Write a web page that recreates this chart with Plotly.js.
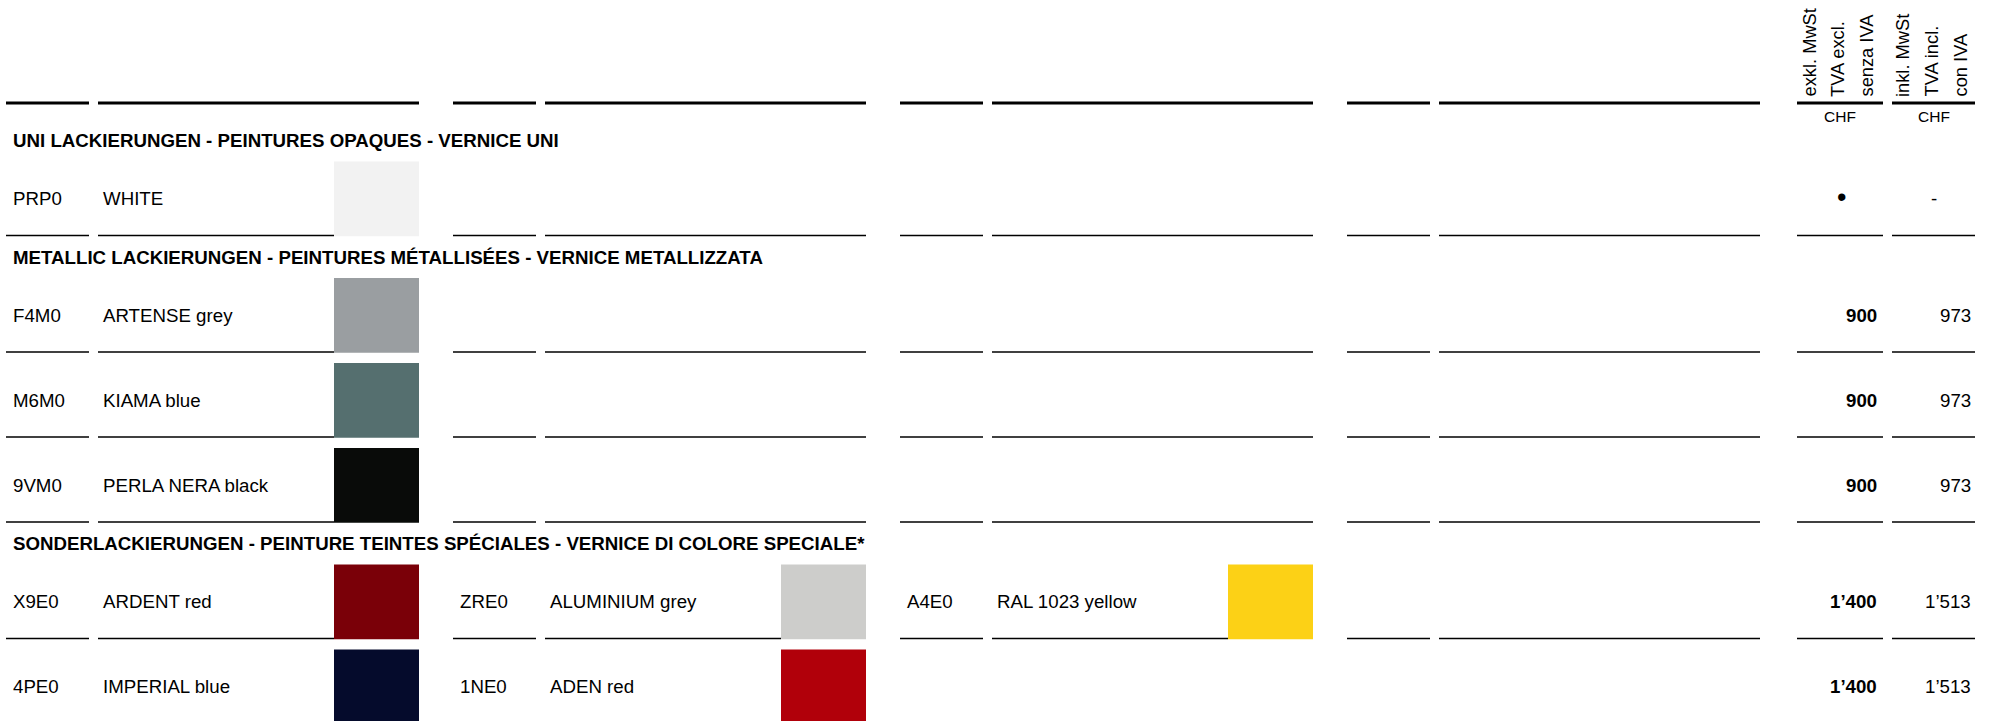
<!DOCTYPE html>
<html>
<head>
<meta charset="utf-8">
<script src="https://cdn.plot.ly/plotly-3.0.1.min.js"></script>
<style>
  html, body { margin: 0; padding: 0; background: #ffffff; }
  #chart { width: 1998px; height: 721px; }
</style>
</head>
<body>
<div id="chart"></div>
<script>
// ---------------- DATA ----------------
const sectionTitles = [
  "UNI LACKIERUNGEN - PEINTURES OPAQUES - VERNICE UNI",
  "METALLIC LACKIERUNGEN - PEINTURES MÉTALLISÉES - VERNICE METALLIZZATA",
  "SONDERLACKIERUNGEN - PEINTURE TEINTES SPÉCIALES - VERNICE DI COLORE SPECIALE*"
];
// one entry per table row
const rowSection = [0, 1, 1, 1, 2, 2];
const priceExcl  = ["•", "900", "900", "900", "1’400", "1’400"];
const priceIncl  = ["-", "973", "973", "973", "1’513", "1’513"];
// one entry per colour
const codes  = ["PRP0", "F4M0", "M6M0", "9VM0", "X9E0", "ZRE0", "A4E0", "4PE0", "1NE0"];
const names  = ["WHITE", "ARTENSE grey", "KIAMA blue", "PERLA NERA black", "ARDENT red",
                "ALUMINIUM grey", "RAL 1023 yellow", "IMPERIAL blue", "ADEN red"];
const swatchColors = ["#f2f2f2", "#9a9ea1", "#556f6f", "#090b09", "#7a0008",
                      "#cdcdcb", "#fcd116", "#050b2c", "#b1000a"];
const colourRow   = [0, 1, 2, 3, 4, 4, 4, 5, 5];
const colourGroup = [0, 0, 0, 0, 0, 1, 2, 0, 1];
// header labels
const headerExcl = ["exkl. MwSt", "TVA excl.", "senza IVA"];
const headerIncl = ["inkl. MwSt", "TVA incl.", "con IVA"];
const currencyLabels = ["CHF", "CHF"];

// ---------------- LAYOUT GEOMETRY ----------------
const W = 1998, H = 721;
const FONT = "Liberation Sans, Arial, Helvetica, sans-serif";
const FS = 18.7;
const GROUP_X = [6, 453, 900, 1347];
const CODE_W = 83, NAME_DX = 92, NAME_W = 321, SWATCH_DX = 328, SWATCH_W = 85;
const PRICE_SEGS = [[1797, 1883], [1892, 1975]];
const PRICE_RIGHT = [1878, 1972];
const PRICE_CENTER = [1840, 1933.5];
const HEADER_LINE_Y = 103;
const ROW_H = 74, ROW_GAP = 11;

// compute vertical positions
const sectionY = [];
const rowTop = [], rowBottom = [];
let lastLine = HEADER_LINE_Y;
let prevSection = -1;
let cursorTop = 0;
for (let r = 0; r < rowSection.length; r++) {
  const s = rowSection[r];
  if (s !== prevSection) {
    const ty = lastLine + (s === 0 ? 37.5 : 21.5);
    sectionY[s] = ty;
    cursorTop = ty + 21;
    prevSection = s;
  } else {
    cursorTop = lastLine + ROW_GAP;
  }
  rowTop[r] = cursorTop;
  rowBottom[r] = cursorTop + ROW_H;
  lastLine = rowBottom[r];
}

const shapes = [];
const annotations = [];

function hline(x0, x1, y, w) {
  shapes.push({type: "line", xref: "x", yref: "y", x0: x0, x1: x1, y0: y, y1: y,
               line: {color: "#000000", width: w}});
}
function text(t, x, y, opts) {
  annotations.push(Object.assign({
    text: t, x: x, y: y, xref: "x", yref: "y", showarrow: false,
    xanchor: "left", yanchor: "middle", borderpad: 0,
    font: {family: FONT, size: FS, color: "#000000"}
  }, opts || {}));
}

// header lines
GROUP_X.forEach(gx => {
  hline(gx, gx + CODE_W, HEADER_LINE_Y, 3);
  hline(gx + NAME_DX, gx + NAME_DX + NAME_W, HEADER_LINE_Y, 3);
});
PRICE_SEGS.forEach(p => hline(p[0], p[1], HEADER_LINE_Y, 3));

// header rotated labels
const exclX = [1808.5, 1837, 1866];
const inclX = [1902.5, 1931, 1960];
const rotFont = {family: FONT, size: 18.3, color: "#000000"};
headerExcl.forEach((t, i) => text(t, exclX[i], 98, {textangle: -90, xanchor: "center", yanchor: "bottom", font: rotFont}));
headerIncl.forEach((t, i) => text(t, inclX[i], 98, {textangle: -90, xanchor: "center", yanchor: "bottom", font: rotFont}));
currencyLabels.forEach((t, i) => text(t, PRICE_CENTER[i], 116, {xanchor: "center", font: {family: FONT, size: 15.5, color: "#000000"}}));

// section titles
sectionTitles.forEach((t, s) => text("<b>" + t + "</b>", 12, sectionY[s]));

// row lines (name lines stop at a swatch when a colour occupies the group)
for (let r = 0; r < rowSection.length; r++) {
  const yb = rowBottom[r];
  GROUP_X.forEach((gx, g) => {
    let occupied = false;
    for (let c = 0; c < codes.length; c++) if (colourRow[c] === r && colourGroup[c] === g) occupied = true;
    hline(gx, gx + CODE_W, yb, 1.6);
    hline(gx + NAME_DX, occupied ? gx + SWATCH_DX : gx + NAME_DX + NAME_W, yb, 1.6);
  });
  PRICE_SEGS.forEach(p => hline(p[0], p[1], yb, 1.6));

  const ym = yb - 37;
  const numeric = /\d/.test(priceExcl[r]);
  if (numeric) {
    text("<b>" + priceExcl[r] + "</b>", PRICE_RIGHT[0], ym, {xanchor: "right"});
    text(priceIncl[r], PRICE_RIGHT[1], ym, {xanchor: "right"});
  } else {
    text(priceExcl[r], PRICE_CENTER[0] + 1, ym - 1.5, {xanchor: "center", font: {family: FONT, size: 27, color: "#000000"}});
    text(priceIncl[r], PRICE_CENTER[1], ym, {xanchor: "center"});
  }
}

// colours: code, name, swatch
for (let c = 0; c < codes.length; c++) {
  const r = colourRow[c], gx = GROUP_X[colourGroup[c]];
  const ym = rowBottom[r] - 37;
  text(codes[c], gx + 6, ym);
  text(names[c], gx + 96, ym);
  shapes.push({type: "rect", xref: "x", yref: "y",
               x0: gx + SWATCH_DX, x1: gx + SWATCH_DX + SWATCH_W,
               y0: rowTop[r], y1: rowBottom[r] + 0.8,
               fillcolor: swatchColors[c], line: {width: 0}, layer: "above"});
}

const layout = {
  width: W, height: H,
  margin: {l: 0, r: 0, t: 0, b: 0, pad: 0},
  paper_bgcolor: "#ffffff", plot_bgcolor: "#ffffff",
  showlegend: false,
  xaxis: {range: [0, W], visible: false, fixedrange: true},
  yaxis: {range: [H, 0], visible: false, fixedrange: true},
  shapes: shapes,
  annotations: annotations
};

Plotly.newPlot("chart", [], layout, {staticPlot: true, displayModeBar: false});
</script>
</body>
</html>
